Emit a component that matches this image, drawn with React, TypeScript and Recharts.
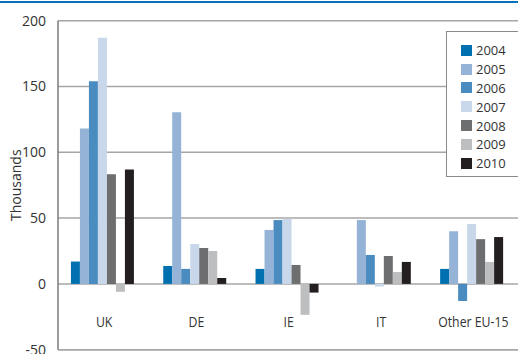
import React from "react";
import { BarChart, Bar, XAxis, YAxis, CartesianGrid } from "recharts";

const categories = ["UK", "DE", "IE", "IT", "Other EU-15"];
const years = ["2004", "2005", "2006", "2007", "2008", "2009", "2010"];
const v2004 = [17, 13.6, 11.4, 0, 11.4];
const v2005 = [118, 130.5, 41, 48.5, 40];
const v2006 = [154, 11.4, 48.5, 22, -13];
const v2007 = [187, 30.3, 49.5, -2, 45.5];
const v2008 = [83.3, 27.3, 14.4, 21.2, 34];
const v2009 = [-6, 25, -23.5, 9, 16.7];
const v2010 = [87, 4.5, -6.6, 16.7, 35.6];
const yTicks = [-50, 0, 50, 100, 150, 200];
const colors = ["#0070b0", "#95b3d7", "#4a8cc0", "#c8d8ea", "#6d6e70", "#bcbec0", "#231f20"];

const series = [v2004, v2005, v2006, v2007, v2008, v2009, v2010];
const data = categories.map((c, i) => {
  const row: Record<string, string | number> = { name: c };
  years.forEach((y, k) => {
    row[y] = series[k][i];
  });
  return row;
});

const CatTick = (props: any) => {
  const { x, payload } = props;
  return (
    <text
      transform={`translate(${x},327) scale(0.82,1)`}
      x={0}
      y={0}
      textAnchor="middle"
      fill="#333"
      fontSize={15}
      fontFamily="'Open Sans', sans-serif"
    >
      {payload.value}
    </text>
  );
};

const LegendBox = () => (
  <div
    style={{
      position: "absolute",
      left: 446,
      top: 31,
      border: "1px solid #8a8a8a",
      background: "#fff",
      width: 90,
      height: 146,
      boxSizing: "border-box",
      paddingTop: 9,
      paddingLeft: 14,
      fontFamily: "'Open Sans', sans-serif",
      fontSize: 13,
      color: "#333",
    }}
  >
    {years.map((y, i) => (
      <div key={y} style={{ display: "flex", alignItems: "center", height: 18.8 }}>
        <span style={{ display: "inline-block", width: 11, height: 11, background: colors[i], marginRight: 4 }} />
        <span>{y}</span>
      </div>
    ))}
  </div>
);

export default function App() {
  return (
    <div style={{ position: "absolute", left: 0, top: 0, width: 518, height: 354, overflow: "hidden", background: "#fff" }}>
      <div style={{ position: "absolute", left: 0, top: 1, width: 518, height: 2, background: "#0a72ba" }} />
      <BarChart
        width={540}
        height={354}
        data={data}
        margin={{ top: 20.7, right: 20.5, bottom: 3.3, left: 0 }}
        barCategoryGap="14%"
        barGap={0}
      >
        <CartesianGrid vertical={false} stroke="#a6a6a6" strokeWidth={1.5} />
        <XAxis
          dataKey="name"
          height={1}
          axisLine={{ stroke: "#a6a6a6", strokeWidth: 1.5 }}
          tickLine={false}
          tick={<CatTick />}
          interval={0}
        />
        <YAxis
          domain={[-50, 200]}
          ticks={yTicks}
          interval={0}
          width={58}
          tickLine={false}
          axisLine={{ stroke: "#7a7a7a", strokeWidth: 1.5 }}
          tickMargin={6}
          tick={{ fill: "#333", fontSize: 14, fontFamily: "'Open Sans', sans-serif" }}
          label={{
            value: "Thousands",
            angle: -90,
            position: "insideLeft",
            dx: 11,
            dy: 0,
            style: { fill: "#333", fontSize: 14, fontFamily: "'Open Sans', sans-serif", textAnchor: "middle" },
          }}
        />
        {years.map((y, i) => (
          <Bar key={y} dataKey={y} fill={colors[i]} isAnimationActive={false} />
        ))}
      </BarChart>
      <LegendBox />
    </div>
  );
}
